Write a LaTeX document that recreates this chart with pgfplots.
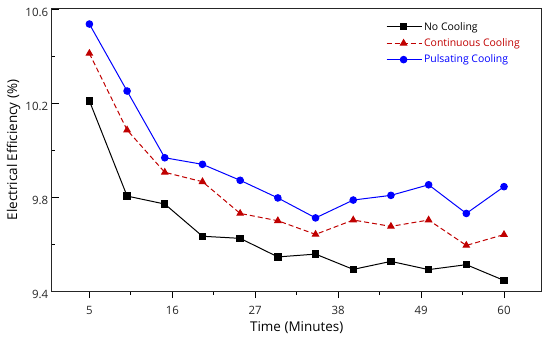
\documentclass[border=0pt]{standalone}
\usepackage{fontspec}
\setmainfont{Open Sans}
\usepackage{pgfplots}
\pgfplotsset{compat=1.18}
\usetikzlibrary{calc}
\definecolor{myred}{RGB}{192,0,0}
\definecolor{myblue}{RGB}{0,0,255}
\begin{document}
\begin{tikzpicture}
\begin{axis}[
  scale only axis,
  width=490bp, height=282bp,
  xmin=0, xmax=65, ymin=9.4, ymax=10.6,
  xtick={5,16,27,38,49,60},
  minor xtick={10.5,21.5,32.5,43.5,54.5},
  ytick={9.4,9.8,10.2,10.6},
  minor ytick={9.6,10.0,10.4},
  tick pos=left,
  xtick align=outside, ytick align=inside,
  major tick length=7bp, minor tick length=3.5bp,
  tick style={black, line width=0.8pt},
  axis line style={line width=1pt, black!85},
  /pgf/number format/assume math mode=true,
  /pgf/number format/fixed, /pgf/number format/precision=1,
  yticklabel style={/pgf/number format/fixed zerofill, font=\fontsize{11.5}{13}\selectfont, yshift=-3bp, text=black!85},
  xticklabel style={font=\fontsize{11.5}{13}\selectfont, yshift=-5bp, text=black!85},
  xlabel={Time (Minutes)},
  ylabel={Electrical Efficiency (\%)},
  every axis x label/.style={at={(axis description cs:0.5,-0.13)}, anchor=center, font=\fontsize{13.5}{15}\selectfont},
  every axis y label/.style={at={(axis description cs:-0.078,0.5)}, rotate=90, anchor=center, font=\fontsize{13.5}{15}\selectfont},
  legend style={at={(axis description cs:0.68,0.965)}, anchor=north west, draw=none, fill=none,
    font=\fontsize{10.5}{12}\selectfont, row sep=3bp, inner sep=1bp},
  legend cell align=left,
  legend image code/.code={\draw[mark repeat=2,mark phase=2] plot coordinates {(0bp,0bp) (17bp,0bp) (35bp,0bp)};},
]
\addplot[black, line width=1pt, mark=square*, mark size=3.2pt, mark options={solid}] coordinates {
(5,10.209) (10,9.804) (15,9.770) (20,9.633) (25,9.624) (30,9.545) (35,9.557) (40,9.492) (45,9.526) (50,9.491) (55,9.512) (60,9.445)};
\addlegendentry{No Cooling}
\addplot[myred, line width=1pt, dash pattern=on 5bp off 3bp, mark=triangle*, mark size=3.6pt, mark options={solid}] coordinates {
(5,10.411) (10,10.085) (15,9.905) (20,9.865) (25,9.730) (30,9.699) (35,9.641) (40,9.702) (45,9.675) (50,9.702) (55,9.594) (60,9.640)};
\addlegendentry{\textcolor{myred}{Continuous Cooling}}
\addplot[myblue, line width=1pt, mark=*, mark size=3.3pt, mark options={solid}] coordinates {
(5,10.536) (10,10.251) (15,9.967) (20,9.939) (25,9.871) (30,9.796) (35,9.711) (40,9.787) (45,9.807) (50,9.852) (55,9.730) (60,9.844)};
\addlegendentry{\textcolor{myblue}{Pulsating Cooling}}
\end{axis}
\pgfresetboundingbox
\useasboundingbox ($(current axis.south west)+(-51.7bp,-50bp)$) rectangle ($(current axis.north east)+(8.3bp,9bp)$);
\end{tikzpicture}
\end{document}
